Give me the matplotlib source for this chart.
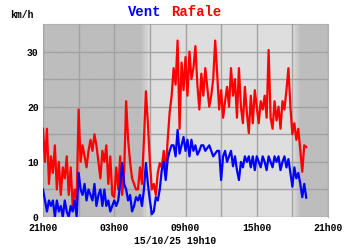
import numpy as np
import matplotlib
matplotlib.use('Agg')
import matplotlib.pyplot as plt

# hours after 21h00, 10 min steps
rafale = [16, 10, 16, 6, 11, 8,
          13, 5, 10, 4, 9, 7,
          11, 4, 9, 2, 5, 3,
          19.5, 10, 13, 11, 9, 12,
          14, 12, 15, 13, 10, 7,
          12, 10, 13, 6, 11, 4,
          3.6, 9, 5, 11, 4, 8,
          21, 14, 10, 7, 6, 5,
          5, 9, 6, 14, 22.8, 17,
          10, 5, 6, 4, 8, 9.8,
          9, 12, 8, 14, 19, 22,
          27, 24, 32, 16, 28, 23,
          29, 22, 30, 25, 27, 31,
          24, 19.5, 26, 22, 27, 23.6,
          20, 22, 25, 32, 26, 19.5,
          23, 18, 21, 23.6, 20, 27,
          22, 25, 18, 27, 20, 17,
          23.6, 19, 15.2, 22, 17, 23,
          20, 17, 21, 19.5, 22, 18,
          30.3, 18, 16, 21, 17.5, 20,
          16, 21, 19.5, 23, 27, 20,
          15, 17, 14, 16, 12, 8.2,
          13, 12.7]
vent = [5, 3, 1, 3, 2, 3,
        0, 3, 1, 2, 0, 3,
        1, 0, 2, 1, 3, 0,
        8, 5, 4, 6, 3, 5,
        4, 3, 6, 2, 4, 5,
        2, 5, 2, 3, 1, 2,
        3, 2, 3, 6, 9.8, 6,
        5, 3, 4, 1, 2, 3.6,
        3, 4, 2, 5, 9.8, 6,
        3, 0.5, 1, 3.6, 3, 5,
        8.5, 10, 6.7, 10.5, 12, 13,
        13, 11, 15.8, 11.5, 13, 14.5,
        12, 14, 11, 14, 12, 13,
        11.3, 12, 13, 13, 12, 12.5,
        13, 12, 11, 11.5, 12, 12,
        6.7, 11, 12, 10, 11, 12,
        9.2, 11, 8.5, 6.7, 10, 9,
        11, 10, 11, 9, 11, 8.5,
        11, 10, 9, 11, 10, 8.5,
        11, 10, 9, 11, 10, 11,
        8.5, 10, 11, 9, 10.5, 8,
        5.5, 9, 7, 8, 6, 3.6,
        6, 3.5]
xtick_labels = ['21h00', '03h00', '09h00', '15h00', '21h00']
ytick_labels = ['0', '10', '20', '30']

heures = np.arange(len(rafale)) / 6.0

fig = plt.figure(figsize=(3.5, 2.5), dpi=100)
ax = fig.add_axes([43 / 350, 33 / 250, 285 / 350, 193 / 250])

# night / day background with soft edges
xs = np.linspace(0, 24, 600)
nuit, jour = 0.74, 0.87
fond = np.interp(xs, [0, 8.2, 9.0, 21.0, 21.7, 24], [nuit, nuit, jour, jour, nuit, nuit])
ax.imshow(np.tile(fond, (2, 1)), extent=[0, 24, 0, 35], aspect='auto',
          cmap='gray', vmin=0, vmax=1, zorder=0, interpolation='bilinear')

ax.set_xlim(0, 24)
ax.set_ylim(0, 35)
ax.set_xticks([0, 6, 12, 18, 24])
ax.set_xticks(np.arange(3, 24, 6), minor=True)
ax.set_xticklabels(xtick_labels)
ax.set_yticks([0, 10, 20, 30])
ax.set_yticks([5, 15, 25], minor=True)
ax.set_yticklabels(ytick_labels)
ax.grid(True, which='both', color='#a2a2a2', linewidth=1, zorder=1)
ax.set_axisbelow(False)
ax.tick_params(which='both', length=0)
ax.tick_params(axis='x', pad=4.5)
ax.tick_params(axis='y', pad=3)
for lab in ax.get_xticklabels() + ax.get_yticklabels():
    lab.set_family('Liberation Mono')
    lab.set_fontweight('bold')
    lab.set_fontsize(7)
for s in ax.spines.values():
    s.set_visible(False)
ax.spines['top'].set_visible(True)
ax.spines['top'].set_color('#b0b0b0')
ax.spines['right'].set_visible(True)
ax.spines['right'].set_color('#b0b0b0')

ax.plot(heures, rafale, color='#ff0000', linewidth=1.6, zorder=3)
ax.plot(heures, vent, color='#0000ff', linewidth=1.6, zorder=4)

fig.text(10 / 350, 1 - 15 / 250, 'km/h', family='Liberation Mono', fontweight='bold',
         fontsize=7, va='center')
fig.text(128 / 350, 1 - 12 / 250, 'Vent', family='Liberation Mono', fontweight='bold',
         fontsize=10, color='#0000ff', va='center')
fig.text(171 / 350, 1 - 12 / 250, 'Rafale', family='Liberation Mono', fontweight='bold',
         fontsize=10, color='#ff0000', va='center')
fig.text(175 / 350, 1 - 241 / 250, '15/10/25 19h10', family='Liberation Mono',
         fontweight='bold', fontsize=7, ha='center', va='center')

fig.savefig('out.png', dpi=100)
